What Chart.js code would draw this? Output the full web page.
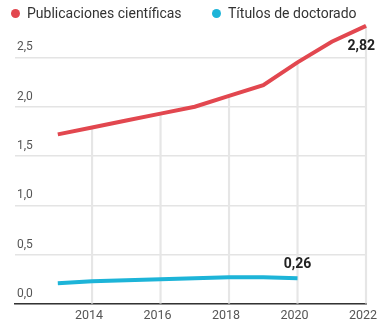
<!DOCTYPE html>
<html>
<head>
<meta charset="utf-8">
<script src="https://cdn.jsdelivr.net/npm/chart.js@4"></script>
<style>
    body { margin: 0; background: #fff; font-family: Roboto, sans-serif; }
    #wrap { position: relative; width: 379px; height: 325px; }
    #grafico { display: block; }
    #leyenda { position: absolute; top: 4px; left: 0; width: 379px; height: 18px; font-size: 14px; color: #333; }
    .item { position: absolute; top: 0; line-height: 18px; white-space: nowrap; }
    .dot { position: absolute; top: 5px; width: 9px; height: 9px; border-radius: 50%; }
</style>
</head>
<body>
<div id="wrap">
    <canvas id="grafico" width="379" height="325"></canvas>
    <div id="leyenda"></div>
</div>
<script>
// Datos de la serie (2013-2022)
const anios = [2013, 2014, 2015, 2016, 2017, 2018, 2019, 2020, 2021, 2022];
const publicaciones = [1.72, 1.79, 1.86, 1.93, 2.00, 2.11, 2.22, 2.45, 2.66, 2.82];
const doctorados = [0.21, 0.23, 0.24, 0.25, 0.26, 0.27, 0.27, 0.26, null, null];
const ticksX = [2014, 2016, 2018, 2020, 2022];
const ticksY = [0, 0.5, 1.0, 1.5, 2.0, 2.5];
const nombres = ['Publicaciones científicas', 'Títulos de doctorado'];
const colores = ['#e2474f', '#1db4d8'];

const fmt = v => v.toFixed(2).replace('.', ',');
const puntos = serie => anios.map((a, i) => ({ x: a, y: serie[i] }));

// Leyenda en HTML
const leyenda = document.getElementById('leyenda');
const posLeyenda = [11, 212];
nombres.forEach((n, i) => {
    const el = document.createElement('div');
    el.className = 'item';
    el.style.left = posLeyenda[i] + 'px';
    el.innerHTML = `<span class="dot" style="left:0;background:${colores[i]}"></span><span style="padding-left:16px">${n}</span>`;
    leyenda.appendChild(el);
});

// Líneas verticales solo bajo la curva de publicaciones (años de las marcas)
const guias = anios
    .map((a, i) => ({ x: a, y: publicaciones[i] }))
    .filter(p => ticksX.includes(p.x));

// Etiquetas de valor en el último punto de cada serie
const etiquetasValor = {
    id: 'etiquetasValor',
    afterDatasetsDraw(chart) {
        const ctx = chart.ctx;
        ctx.save();
        ctx.font = 'bold 14px Roboto, sans-serif';
        ctx.fillStyle = '#222';
        ctx.textBaseline = 'middle';
        // publicaciones: debajo del final, alineado a la derecha
        const i0 = publicaciones.length - 1;
        const p0 = chart.getDatasetMeta(0).data[i0];
        ctx.textAlign = 'right';
        ctx.fillText(fmt(publicaciones[i0]), p0.x + 9, p0.y + 21);
        // doctorados: encima del último dato
        let i1 = doctorados.length - 1;
        while (doctorados[i1] === null) i1--;
        const p1 = chart.getDatasetMeta(1).data[i1];
        ctx.textAlign = 'center';
        ctx.fillText(fmt(doctorados[i1]), p1.x, p1.y - 14);
        ctx.restore();
    }
};

new Chart(document.getElementById('grafico'), {
    type: 'line',
    data: {
        datasets: [
            {
                label: nombres[0],
                data: puntos(publicaciones),
                borderColor: colores[0],
                borderWidth: 4,
                pointRadius: 0,
                tension: 0,
                clip: false,
                order: 1
            },
            {
                label: nombres[1],
                data: puntos(doctorados),
                borderColor: colores[1],
                borderWidth: 4,
                pointRadius: 0,
                tension: 0,
                clip: false,
                order: 2
            },
            {
                type: 'bar',
                label: 'guias',
                data: guias,
                backgroundColor: '#e6e6e6',
                barThickness: 1.5,
                clip: false,
                order: 10
            }
        ]
    },
    options: {
        responsive: false,
        animation: false,
        layout: { padding: { left: 11, top: 18, right: 13, bottom: 0 } },
        plugins: {
            legend: { display: false },
            tooltip: { enabled: false }
        },
        scales: {
            x: {
                type: 'linear',
                min: 2011.75,
                max: 2022,
                offset: false,
                afterBuildTicks: axis => { axis.ticks = ticksX.map(v => ({ value: v })); },
                // la etiqueta 2022 puede sobresalir: sin relleno extra
                afterFit: axis => {
                    axis.paddingLeft = 0;
                    axis.paddingRight = 0;
                    axis.height = 21;
                },
                grid: { display: false, drawTicks: false },
                border: { display: true, color: '#333', width: 1.5 },
                ticks: {
                    autoSkip: false,
                    maxRotation: 0,
                    padding: 6,
                    labelOffset: -3,
                    color: '#555',
                    font: { family: 'Roboto', size: 12.5, lineHeight: 1 },
                    callback: v => String(v)
                }
            },
            y: {
                min: 0,
                max: 2.9,
                afterBuildTicks: axis => { axis.ticks = ticksY.map(v => ({ value: v })); },
                grid: { color: '#e4e4e4', lineWidth: 1.5, drawTicks: false },
                border: { display: false },
                ticks: {
                    mirror: true,
                    padding: 2,
                    labelOffset: -10,
                    color: '#555',
                    font: { family: 'Roboto', size: 12 },
                    callback: v => v.toFixed(1).replace('.', ',')
                }
            }
        }
    },
    plugins: [etiquetasValor]
});
</script>
</body>
</html>
